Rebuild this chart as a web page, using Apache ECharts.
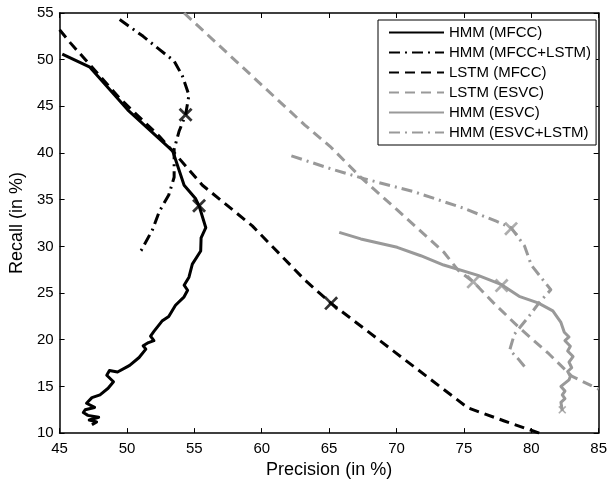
<!DOCTYPE html>
<html>
<head>
<meta charset="utf-8">
<script src="https://cdn.jsdelivr.net/npm/echarts@6/dist/echarts.min.js"></script>
<style>
html,body{margin:0;padding:0;background:#fff;}
#chart{width:610px;height:484px;}
</style>
</head>
<body>
<div id="chart"></div>
<script>
// ---- data (Precision %, Recall %) ----
var seriesNames = ['HMM (MFCC)', 'HMM (MFCC+LSTM)', 'LSTM (MFCC)', 'LSTM (ESVC)', 'HMM (ESVC)', 'HMM (ESVC+LSTM)'];
var xTicks = [45, 50, 55, 60, 65, 70, 75, 80, 85];
var yTicks = [10, 15, 20, 25, 30, 35, 40, 45, 50, 55];

var hmmMfcc = [[45.2,50.6],[47.25,49.2],[50.07,44.6],[53.4,40.2],[54.24,36.55],[55.1,35.1],[55.35,34.35],[55.85,32.0],[55.5,30.9],[55.47,29.5],[54.85,28.1],[54.6,26.7],[54.24,25.84],[54.5,25.3],[54.24,24.6],[53.6,23.7],[53.1,22.5],[52.6,22.0],[52.0,20.9],[51.75,20.4],[52.0,19.9],[51.6,19.7],[51.2,19.35],[51.4,19.0],[50.9,18.1],[50.2,17.25],[50.0,17.1],[49.3,16.55],[48.7,16.7],[48.5,16.2],[49.0,15.5],[48.6,14.8],[48.0,14.1],[47.4,13.8],[47.0,13.2],[47.6,12.75],[46.9,12.5],[46.76,12.2],[47.1,11.9],[47.9,11.7],[47.2,11.4],[47.75,11.2],[47.4,10.9]];
var hmmMfccLstm = [[49.46,54.3],[51.2,52.5],[52.4,51.1],[53.5,49.85],[54.1,48.3],[54.6,46.2],[54.35,44.1],[53.86,42.3],[53.5,40.4],[53.5,37.4],[53.1,35.5],[52.4,33.75],[51.9,31.8],[51.05,29.55],[50.9,29.3]];
var lstmMfcc = [[45.0,53.2],[45.8,51.8],[49.5,45.8],[52.4,41.8],[53.4,40.2],[55.6,36.55],[59.3,32.2],[63.2,26.4],[65.15,23.9],[69.9,18.65],[75.3,12.7],[78.0,11.3],[80.6,10.0]];
var lstmEsvc = [[54.24,55.0],[63.2,43.0],[65.15,40.6],[67.35,37.4],[70.05,33.9],[73.5,29.4],[74.6,27.4],[75.7,26.2],[77.2,23.95],[79.1,21.3],[81.3,18.5],[83.0,16.1],[85.0,14.7]];
var hmmEsvc = [[65.75,31.5],[67.35,30.8],[70.05,29.9],[71.8,29.0],[73.5,28.0],[76.05,26.9],[77.8,25.9],[79.1,24.65],[80.5,23.95],[81.6,23.1],[82.2,21.85],[82.45,20.8],[82.8,20.3],[82.5,19.9],[82.9,19.3],[82.7,18.8],[83.1,18.2],[82.8,17.6],[83.0,17.0],[82.7,16.6],[82.9,16.1],[82.8,15.7],[82.2,15.0],[82.5,14.5],[82.3,14.1],[82.5,13.7],[82.2,13.3],[82.3,12.4]];
var hmmEsvcLstm = [[62.2,39.7],[65.15,38.3],[67.6,37.25],[71.3,35.85],[74.95,34.1],[77.4,32.7],[78.5,32.0],[79.5,30.05],[80.0,28.0],[81.45,25.35],[80.6,24.0],[79.85,22.55],[78.75,20.6],[78.4,18.9],[79.0,18.0],[79.6,16.95]];

// cross markers
var crossBlack = [[55.35,34.35],[54.35,44.1],[65.15,23.9]];
var crossGray = [[75.7,26.2],[77.8,25.8],[78.5,31.9]];
var crossGraySmall = [[82.3,12.5]];

var BLACK = '#000000';
var GRAY = '#999999';
var FONT = '"Liberation Sans", Arial, Helvetica, sans-serif';
var XPATH = 'path://M0,1.4L1.4,0L5,3.6L8.6,0L10,1.4L6.4,5L10,8.6L8.6,10L5,6.4L1.4,10L0,8.6L3.6,5Z';

function lineSeries(name, data, color, type, width) {
  return {
    name: name, type: 'line', data: data, symbol: 'none', smooth: false,
    xAxisIndex: 0, yAxisIndex: 0, z: 3,
    lineStyle: { color: color, width: width, type: type, cap: 'butt', join: 'round' },
    itemStyle: { color: color },
    emphasis: { disabled: true },
    animation: false
  };
}

var DASH = [10, 6];
var DASHDOT = [11, 5, 2, 5];

var chart = echarts.init(document.getElementById('chart'), null, { renderer: 'canvas' });

var axisCommon = {
  type: 'value',
  axisLine: { show: true, onZero: false, lineStyle: { color: BLACK, width: 1.5 } },
  axisTick: { show: true, inside: true, length: 5, lineStyle: { color: BLACK, width: 1 } },
  splitLine: { show: false }
};

chart.setOption({
  animation: false,
  backgroundColor: '#ffffff',
  textStyle: { fontFamily: FONT },
  grid: { left: 56, right: 10, top: 13, bottom: 43, containLabel: false },
  xAxis: [
    Object.assign({}, axisCommon, {
      position: 'bottom', min: xTicks[0], max: xTicks[xTicks.length - 1], interval: 5,
      axisLabel: { show: true, color: BLACK, fontSize: 15, margin: 8, fontFamily: FONT },
      name: 'Precision (in %)', nameLocation: 'middle', nameGap: 25,
      nameTextStyle: { color: BLACK, fontSize: 18, fontFamily: FONT }
    }),
    Object.assign({}, axisCommon, {
      position: 'top', min: xTicks[0], max: xTicks[xTicks.length - 1], interval: 5,
      axisLabel: { show: false }
    })
  ],
  yAxis: [
    Object.assign({}, axisCommon, {
      position: 'left', min: yTicks[0], max: yTicks[yTicks.length - 1], interval: 5,
      axisLabel: { show: true, color: BLACK, fontSize: 15, margin: 6, fontFamily: FONT },
      name: 'Recall (in %)', nameLocation: 'middle', nameGap: 32, nameRotate: 90,
      nameTextStyle: { color: BLACK, fontSize: 18, fontFamily: FONT }
    }),
    Object.assign({}, axisCommon, {
      position: 'right', min: yTicks[0], max: yTicks[yTicks.length - 1], interval: 5,
      axisLabel: { show: false }
    })
  ],
  legend: {
    data: seriesNames,
    orient: 'vertical',
    left: 378, top: 20,
    itemWidth: 55, itemHeight: 14, itemGap: 5,
    padding: [5, 5, 5, 10],
    borderColor: BLACK, borderWidth: 1, borderRadius: 0,
    backgroundColor: '#ffffff',
    itemStyle: { opacity: 0 },
    textStyle: { color: BLACK, fontSize: 15, fontFamily: FONT },
    selectedMode: false
  },
  series: [
    lineSeries(seriesNames[0], hmmMfcc, BLACK, 'solid', 3),
    lineSeries(seriesNames[1], hmmMfccLstm, BLACK, DASHDOT, 3),
    lineSeries(seriesNames[2], lstmMfcc, BLACK, DASH, 3),
    lineSeries(seriesNames[3], lstmEsvc, GRAY, DASH, 3),
    lineSeries(seriesNames[4], hmmEsvc, GRAY, 'solid', 3),
    lineSeries(seriesNames[5], hmmEsvcLstm, GRAY, DASHDOT, 3),
    { name: 'crossBlack', type: 'scatter', data: crossBlack, symbol: XPATH, symbolSize: 14,
      itemStyle: { color: BLACK }, z: 5, silent: true },
    { name: 'crossGray', type: 'scatter', data: crossGray, symbol: XPATH, symbolSize: 14,
      itemStyle: { color: GRAY }, z: 5, silent: true },
    { name: 'crossGraySmall', type: 'scatter', data: crossGraySmall, symbol: XPATH, symbolSize: 8,
      itemStyle: { color: GRAY }, z: 5, silent: true }
  ]
});
</script>
</body>
</html>
